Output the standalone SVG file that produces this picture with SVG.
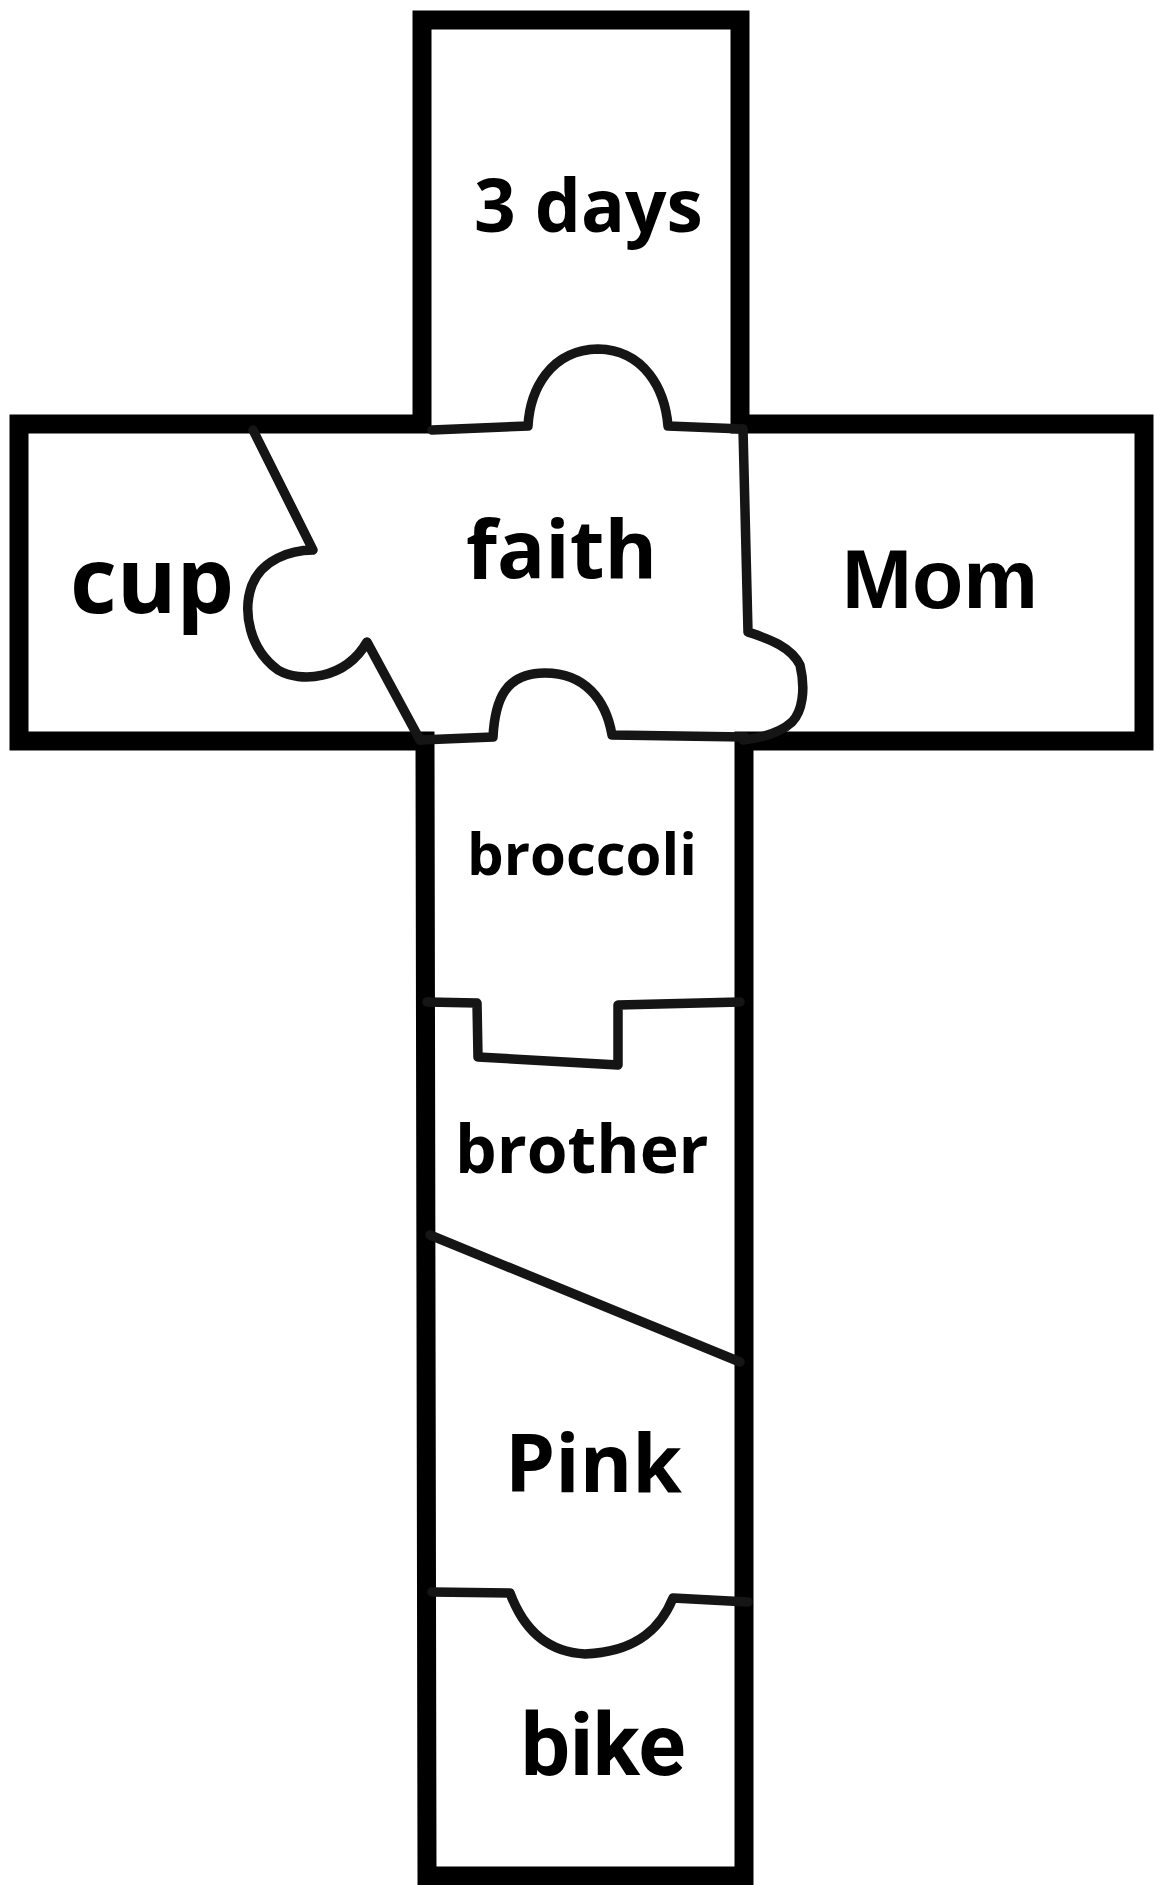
<svg xmlns="http://www.w3.org/2000/svg" width="1155" height="1885" viewBox="0 0 1155 1885">
<style>
.frame{fill:#fff;stroke:#000;stroke-width:19;stroke-linejoin:miter}
.cut{fill:none;stroke:#151515;stroke-width:9.5;stroke-linecap:round;stroke-linejoin:round}
.os{font-family:"Open Sans",sans-serif;font-weight:700;fill:#000}
.ar{font-family:"Liberation Sans",Arial,sans-serif;font-weight:700;fill:#000}
.rb{font-family:Roboto,sans-serif;font-weight:700;fill:#000}
</style>
<rect width="1155" height="1885" fill="#fff"/>
<g id="cross">
<path class="frame" d="M422,20 L740,20 L740,424 L1144,424 L1144,741 L744,741 L744,1876 L427,1876 L425,741 L19,741 L19,424 L422,424 Z"/>
</g>
<g id="connectors">
<path class="cut" d="M432,430 L528,426 C530,390 550,350 598,349 C645,350 665,390 668,426 L743,429"/>
<path class="cut" d="M743,429 L748,632 C765,638 790,645 800,665 C806,690 802,712 792,722 C780,733 760,738 743,740"/>
<path class="cut" d="M253,430 L313,550 C290,550 262,560 252,585 C242,612 250,650 278,670 C300,683 345,680 367,642 L420,740"/>
<path class="cut" d="M420,740 L493,737 C495,700 505,673 545,673 C585,673 606,700 612,735 L745,737"/>
<path class="cut" d="M427,1002 L477,1003 L478,1057 L618,1065 L618,1005 L740,1002"/>
<path class="cut" d="M430,1235 L740,1362"/>
<path class="cut" d="M432,1592 L510,1593 C520,1620 540,1652 585,1654 C640,1652 662,1625 673,1598 L748,1602"/>
</g>
<g id="node-3days"><text class="os" x="474" y="232" font-size="73">3 days</text></g>
<g id="node-cup"><text class="os" x="70" y="613" font-size="91">cup</text></g>
<g id="node-faith"><text class="os" x="466" y="578" font-size="80">faith</text></g>
<g id="node-mom"><text class="ar" x="842" y="608" font-size="84">Mom</text></g>
<g id="node-broccoli"><text class="os" x="467" y="875" font-size="58">broccoli</text></g>
<g id="node-brother"><text class="os" x="455" y="1173" font-size="66">brother</text></g>
<g id="node-pink"><text class="os" x="505" y="1492" font-size="80">Pink</text></g>
<g id="node-bike"><text class="rb" x="521" y="1775" font-size="87">bike</text></g>
</svg>
